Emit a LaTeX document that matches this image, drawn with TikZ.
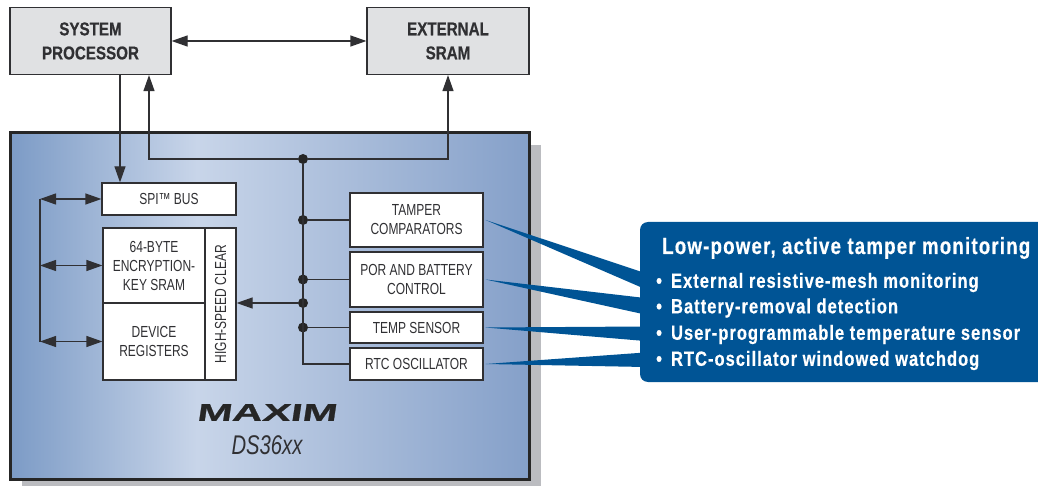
\documentclass[tikz,border=0pt]{standalone}
\usepackage{fontspec}
\usepackage{tikz}
\usetikzlibrary{arrows.meta}
\setmainfont[FakeStretch=0.75]{Liberation Sans}
\newfontfamily\headfont[FakeStretch=0.82,BoldFeatures={FakeBold=0.5}]{Liberation Sans}
\newfontfamily\calloutfont[FakeStretch=0.80,LetterSpace=5,BoldFeatures={FakeBold=0.5}]{Liberation Sans}
\newfontfamily\logofont[FakeStretch=1.75,FakeSlant=0.15,BoldFeatures={FakeBold=1}]{Liberation Sans}
\definecolor{inkgray}{HTML}{303033}
\definecolor{boxgray}{HTML}{E0E1E3}
\definecolor{shadowgray}{HTML}{BBBCC0}
\definecolor{calloutblue}{HTML}{005495}
\definecolor{chipleft}{HTML}{7C9BC6}
\definecolor{chipmid}{HTML}{C8D5E9}
\definecolor{chipright}{HTML}{85A0C9}
\pgfdeclarehorizontalshading{chipshade}{100bp}{color(0bp)=(chipleft); color(25bp)=(chipleft); color(43bp)=(chipmid); color(75bp)=(chipright); color(100bp)=(chipright)}
\tikzset{
  hostbox/.style={draw=inkgray, line width=1.2pt, fill=boxgray, inner sep=0pt, align=center, text=inkgray, font=\headfont\bfseries\fontsize{18.5}{24}\selectfont},
  chipbox/.style={draw=inkgray, line width=1.2pt, fill=white, inner sep=0pt, align=center, text=inkgray, font=\fontsize{16}{19}\selectfont},
  junction/.style={circle, fill=black!85, inner sep=0pt, minimum size=10pt},
  wire/.style={draw=inkgray, line width=1.2pt},
  arrowwire/.style={wire, -{Triangle[length=16pt,width=11pt]}},
  bothwire/.style={wire, {Triangle[length=16pt,width=11pt]}-{Triangle[length=16pt,width=11pt]}},
  calloutline/.style={anchor=west, inner sep=0pt, text=white, font=\calloutfont\bfseries\fontsize{20.6}{24}\selectfont},
}
\begin{document}
\begin{tikzpicture}[x=1pt, y=-1pt]
    \useasboundingbox (0,0) rectangle (1038,486);

    % チップの背景
    \fill[shadowgray] (22,145) rectangle (541,486);
    \path[shading=chipshade, draw=black!85, line width=3pt] (10,133) rectangle (529,479);

    % ノード
    \node[hostbox, minimum width=161pt, minimum height=67pt] (proc) at (90.5,41) {SYSTEM\\PROCESSOR};
    \node[hostbox, minimum width=162pt, minimum height=67pt] (sram) at (448,41) {EXTERNAL\\SRAM};
    \node[chipbox, minimum width=134pt, minimum height=32pt] (spi) at (169,199) {SPI™ BUS};
    \node[chipbox, minimum width=102pt, minimum height=75pt] (key) at (154,265.5) {64-BYTE\\ENCRYPTION-\\KEY SRAM};
    \node[chipbox, minimum width=102pt, minimum height=77pt] (regs) at (154,341.5) {DEVICE\\REGISTERS};
    \node[chipbox, minimum width=152pt, minimum height=31pt, rotate=90] (clear) at (220.5,304) {HIGH-SPEED CLEAR};
    \node[chipbox, minimum width=133pt, minimum height=54pt] (tamper) at (416.5,220) {TAMPER\\COMPARATORS};
    \node[chipbox, minimum width=133pt, minimum height=55pt] (por) at (416.5,279.5) {POR AND BATTERY\\CONTROL};
    \node[chipbox, minimum width=133pt, minimum height=31pt] (temp) at (416.5,327.5) {TEMP SENSOR};
    \node[chipbox, minimum width=133pt, minimum height=32pt] (rtc) at (416.5,364) {RTC OSCILLATOR};
    \node[inner sep=0pt, text=black!85, font=\logofont\bfseries\fontsize{24}{24}\selectfont] (logo) at (266.5,412.5) {MAXIM};
    \node[inner sep=0pt, text=inkgray, font=\itshape\fontsize{27}{27}\selectfont] (part) at (267,445) {DS36xx};

    % 接続点
    \node[junction] (j1) at (303,159) {};
    \node[junction] (j2) at (303,220) {};
    \node[junction] (j3) at (303,279.5) {};
    \node[junction] (j4) at (303,303) {};
    \node[junction] (j5) at (303,327.5) {};
    \coordinate (xdown) at (120,0);
    \coordinate (xup) at (149,0);
    \coordinate (b1) at (40,199);
    \coordinate (b2) at (40,265.5);
    \coordinate (b3) at (40,341.5);

    % エッジ
    \draw[bothwire] (proc) -- (sram);
    \draw[arrowwire] (proc.south -| xdown) -- (spi.north -| xdown);
    \draw[arrowwire] (j1) -| (proc.south -| xup);
    \draw[arrowwire] (j1) -| (sram.south);
    \draw[wire] (j1) |- (rtc.west);
    \draw[wire] (j2) -- (tamper.west);
    \draw[wire] (j3) -- (por.west);
    \draw[wire] (j5) -- (temp.west);
    \draw[arrowwire] (j4) -- (j4 -| clear.south);
    \draw[wire] (b1) -- (b3);
    \draw[bothwire] (b1) -- (spi.west);
    \draw[bothwire] (b2) -- (key.west);
    \draw[bothwire] (b3) -- (regs.west);

    % 吹き出し
    \fill[calloutblue] (1038,222) [rounded corners=8pt] -- (640,222) -- (640,382) [sharp corners] -- (1038,382) -- cycle;
    \fill[calloutblue] ([xshift=2pt]tamper.east) -- (645,273) -- (645,289) -- cycle;
    \fill[calloutblue] ([xshift=2pt]por.east) -- (645,298) -- (645,314.5) -- cycle;
    \fill[calloutblue] ([xshift=2pt]temp.east) -- (645,326.5) -- (645,341) -- cycle;
    \fill[calloutblue] ([xshift=2pt]rtc.east) -- (645,352.5) -- (645,367) -- cycle;
    \node[calloutline, font=\calloutfont\bfseries\fontsize{23.4}{26}\selectfont] (title) at (662,248) {Low-power, active tamper monitoring};
    \node[calloutline] (item1) at (656,282.5) {•\hspace{3.5pt} External resistive-mesh monitoring};
    \node[calloutline] (item2) at (656,308) {•\hspace{3.5pt} Battery-removal detection};
    \node[calloutline] (item3) at (656,334.5) {•\hspace{3.5pt} User-programmable temperature sensor};
    \node[calloutline] (item4) at (656,360.5) {•\hspace{3.5pt} RTC-oscillator windowed watchdog};
\end{tikzpicture}
\end{document}
